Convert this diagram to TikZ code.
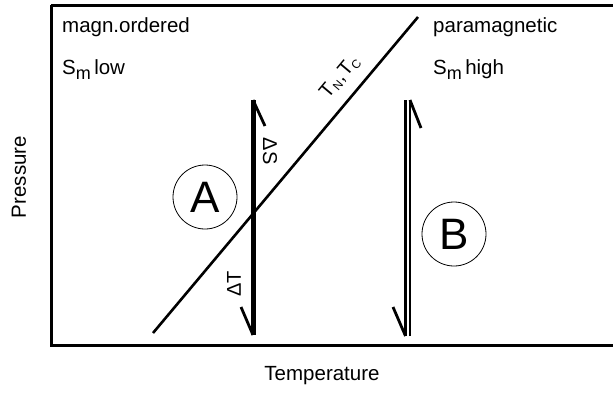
\documentclass[tikz,border=0pt]{standalone}
\usepackage{fontspec}
\setmainfont{Liberation Sans}
\begin{document}
\begin{tikzpicture}[x=1pt,y=-1pt,
  lbl/.style={inner sep=0pt, font=\fontsize{20.5}{20.5}\selectfont},
  axislbl/.style={inner sep=0pt, font=\fontsize{20.5}{20.5}\selectfont},
  smalllbl/.style={inner sep=0pt, font=\fontsize{20}{20}\selectfont},
  letter/.style={circle, draw, line width=0.8pt, minimum size=64pt, inner sep=0pt, font=\fontsize{44}{44}\selectfont},
  frame/.style={line width=3pt},
  phaseline/.style={line width=2.6pt},
  pathA/.style={line width=5pt},
  barb/.style={line width=2.8pt},
  dblA/.style={line width=2.8pt},
  dblB/.style={line width=1.8pt}
]
\useasboundingbox (0,0) rectangle (613,392);
% frame
\draw[frame] (51,5) -- (620,5);
\draw[frame] (51,5) -- (51,345.5) -- (620,345.5);

% phase boundary
\coordinate (pb1) at (153,333);
\coordinate (pb2) at (418,17);
\draw[phaseline] (pb1) -- (pb2);

% path A
\coordinate (a1) at (253,335);
\coordinate (a2) at (253,100);
\coordinate (a3) at (265,126);
\coordinate (a4) at (241,307);
\draw[pathA] (a1) -- (a2);
\draw[barb] (a2) -- (a3);
\draw[barb] (a1) -- (a4);

% path B
\coordinate (b1) at (405.5,336);
\coordinate (b2) at (405.5,100);
\coordinate (b3) at (410,336);
\coordinate (b4) at (410,100);
\coordinate (b5) at (421,128);
\coordinate (b6) at (393,307);
\draw[dblA] (b1) -- (b2);
\draw[dblB] (b3) -- (b4);
\draw[barb] (b4) -- (b5);
\draw[barb] (b1) -- (b6);

% circles
\node[letter] (A) at (205,197) {A};
\node[letter] (B) at (454,234) {B};

% texts
\node[lbl, anchor=base west] (mo) at (62,32) {magn.ordered};
\node[lbl, anchor=base west] (sl) at (62,74) {S\raisebox{-5pt}{\fontsize{18}{18}\selectfont m}\,low};
\node[lbl, anchor=base west] (pm) at (433,32) {paramagnetic};
\node[lbl, anchor=base west] (sh) at (433,74) {S\raisebox{-5pt}{\fontsize{18}{18}\selectfont m}\,high};

\node[smalllbl, rotate=-90] (dS) at (270,151) {ΔS};
\node[smalllbl, rotate=90] (dT) at (234,284) {ΔT};
\node[smalllbl, rotate=50] (tc) at (340,77) {T\raisebox{-3pt}{\fontsize{12}{12}\selectfont N}\kern1pt,\kern1pt T\raisebox{-3pt}{\fontsize{12}{12}\selectfont C}};

\node[axislbl, rotate=90] (P) at (19,177) {Pressure};
\node[axislbl] (T) at (322,376) {Temperature};
\end{tikzpicture}
\end{document}
